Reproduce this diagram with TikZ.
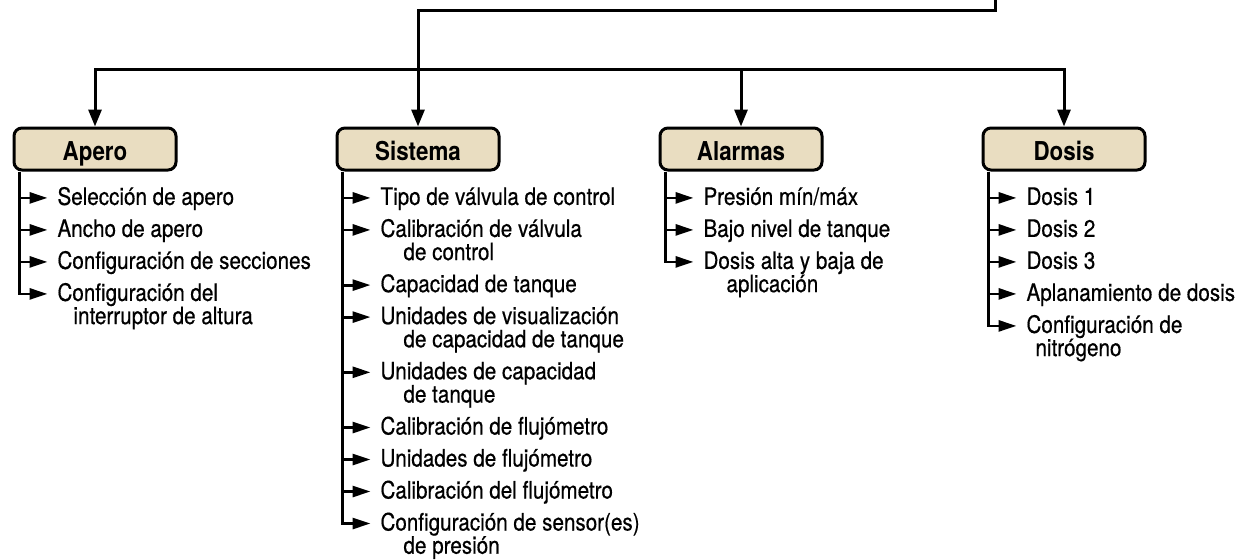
\documentclass[tikz,border=0pt]{standalone}
\usepackage{fontspec}
\setmainfont{TeX Gyre Heros}[FakeStretch=0.86, UprightFeatures={FakeBold=0.5}]
\usepackage{xcolor}
\usepackage{tikz}
\usetikzlibrary{arrows.meta,positioning}
\definecolor{menutan}{RGB}{233,221,193}

\begin{document}
\begin{tikzpicture}[
        node distance=4.4pt and 0pt,
        menubox/.style={draw, rectangle, rounded corners=4pt, line width=1.5pt, fill=menutan, minimum width=81pt, minimum height=21pt, inner sep=0pt, text height=11.9pt, text depth=0pt, font=\fontsize{13}{14}\selectfont\bfseries},
        entry/.style={inner xsep=5pt, inner ysep=0pt, outer sep=0pt, text height=9.3pt, text depth=2.3pt, font=\fontsize{12}{12}\selectfont},
        flow/.style={line width=1.5pt, -{Triangle[length=8.5pt, width=6.5pt]}},
        leaf/.style={line width=1.4pt, -{Triangle[length=9pt, width=5.5pt]}}
    ]
        \useasboundingbox (0,0) rectangle (623.5pt,-279.5pt);

        % menu heads
        \node[menubox] (apero) at (47.5pt,-74.5pt) {Apero};
        \node[menubox, right=79pt of apero] (sistema) {Sistema};
        \node[menubox, right=79pt of sistema] (alarmas) {Alarmas};
        \node[menubox, right=79pt of alarmas] (dosis) {Dosis};

        \coordinate (feed) at (497.5pt,0);
        \coordinate (bus) at (0,-34.5pt);

        \draw[flow] (feed) -- ++(0,-5pt) -| (sistema);
        \draw[flow] (sistema |- bus) -| (apero);
        \draw[flow] (sistema |- bus) -| (dosis);
        \draw[flow] (alarmas |- bus) -- (alarmas);

        % Apero
        \node[entry, below right=7.4pt and 17.5pt of apero.south west] (a1) {Selección de apero};
        \node[entry, below right=of a1.south west] (a2) {Ancho de apero};
        \node[entry, below right=of a2.south west] (a3) {Configuración de secciones};
        \node[entry, below right=of a3.south west] (a4) {Configuración del};
        \node[entry, below right=0pt and 8pt of a4.south west] (a4b) {interruptor de altura};

        \coordinate (apT) at ([xshift=3.5pt]apero.south west);
        \draw[leaf] (apT |- a1) -- (a1);
        \draw[leaf] (apT |- a2) -- (a2);
        \draw[leaf] (apT |- a3) -- (a3);
        \draw[leaf] (apT) |- (a4);

        % Sistema
        \node[entry, below right=7.4pt and 17.5pt of sistema.south west] (s1) {Tipo de válvula de control};
        \node[entry, below right=of s1.south west] (s2) {Calibración de válvula};
        \node[entry, below right=0pt and 11.5pt of s2.south west] (s2b) {de control};
        \node[entry, anchor=north west] (s3) at ([yshift=-4.4pt]s2.south west |- s2b.south) {Capacidad de tanque};
        \node[entry, below right=of s3.south west] (s4) {Unidades de visualización};
        \node[entry, below right=0pt and 11.5pt of s4.south west] (s4b) {de capacidad de tanque};
        \node[entry, anchor=north west] (s5) at ([yshift=-4.4pt]s4.south west |- s4b.south) {Unidades de capacidad};
        \node[entry, below right=0pt and 11.5pt of s5.south west] (s5b) {de tanque};
        \node[entry, anchor=north west] (s6) at ([yshift=-4.4pt]s5.south west |- s5b.south) {Calibración de flujómetro};
        \node[entry, below right=of s6.south west] (s7) {Unidades de flujómetro};
        \node[entry, below right=of s7.south west] (s8) {Calibración del flujómetro};
        \node[entry, below right=of s8.south west] (s9) {Configuración de sensor(es)};
        \node[entry, below right=0pt and 11.5pt of s9.south west] (s9b) {de presión};

        \coordinate (sisT) at ([xshift=3.5pt]sistema.south west);
        \draw[leaf] (sisT |- s1) -- (s1);
        \draw[leaf] (sisT |- s2) -- (s2);
        \draw[leaf] (sisT |- s3) -- (s3);
        \draw[leaf] (sisT |- s4) -- (s4);
        \draw[leaf] (sisT |- s5) -- (s5);
        \draw[leaf] (sisT |- s6) -- (s6);
        \draw[leaf] (sisT |- s7) -- (s7);
        \draw[leaf] (sisT |- s8) -- (s8);
        \draw[leaf] (sisT) |- (s9);

        % Alarmas
        \node[entry, below right=7.4pt and 17.5pt of alarmas.south west] (l1) {Presión mín/máx};
        \node[entry, below right=of l1.south west] (l2) {Bajo nivel de tanque};
        \node[entry, below right=of l2.south west] (l3) {Dosis alta y baja de};
        \node[entry, below right=0pt and 11.5pt of l3.south west] (l3b) {aplicación};

        \coordinate (alT) at ([xshift=3.5pt]alarmas.south west);
        \draw[leaf] (alT |- l1) -- (l1);
        \draw[leaf] (alT |- l2) -- (l2);
        \draw[leaf] (alT) |- (l3);

        % Dosis
        \node[entry, below right=7.4pt and 17.5pt of dosis.south west] (d1) {Dosis 1};
        \node[entry, below right=of d1.south west] (d2) {Dosis 2};
        \node[entry, below right=of d2.south west] (d3) {Dosis 3};
        \node[entry, below right=of d3.south west] (d4) {Aplanamiento de dosis};
        \node[entry, below right=of d4.south west] (d5) {Configuración de};
        \node[entry, below right=0pt and 4.5pt of d5.south west] (d5b) {nitrógeno};

        \coordinate (doT) at ([xshift=3.5pt]dosis.south west);
        \draw[leaf] (doT |- d1) -- (d1);
        \draw[leaf] (doT |- d2) -- (d2);
        \draw[leaf] (doT |- d3) -- (d3);
        \draw[leaf] (doT |- d4) -- (d4);
        \draw[leaf] (doT) |- (d5);
    \end{tikzpicture}
\end{document}
